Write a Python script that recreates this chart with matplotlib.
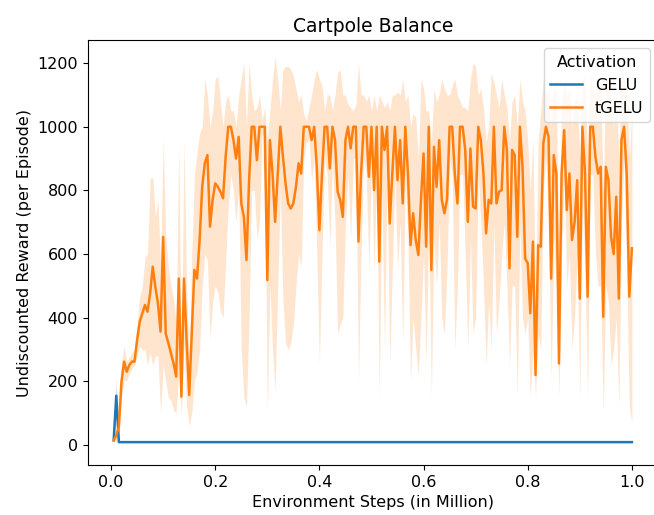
import numpy as np
import matplotlib
matplotlib.use("Agg")
import matplotlib.pyplot as plt

matplotlib.rc("font", size=11.5)

# environment steps (in million), one point every 5000 steps
steps = np.arange(1, 201) * 0.005

# GELU run: mean reward and band
gelu_mean = [15, 155] + [9] * 198
gelu_lo = [8, 105] + [8] * 198
gelu_hi = [25, 205] + [10] * 198

# tGELU run: mean reward and band
tgelu_mean = [
    15, 30, 58, 199, 262, 230, 251, 262, 262, 330,
    387, 414, 440, 419, 476, 560, 497, 445, 356, 654,
    350, 320, 288, 256, 215, 523, 152, 523, 330, 157,
    351, 550, 523, 644, 811, 885, 911, 686, 770, 822,
    811, 796, 775, 906, 1000, 1000, 958, 900, 968, 759,
    717, 581, 832, 1000, 1000, 895, 1000, 1000, 1000, 518,
    958, 853, 701, 853, 1000, 906, 822, 759, 743, 759,
    811, 885, 853, 1000, 1000, 1000, 958, 1000, 874, 675,
    853, 1000, 1000, 869, 1000, 958, 796, 770, 717, 958,
    1000, 932, 1000, 1000, 639, 853, 1000, 1000, 843, 1000,
    801, 1000, 576, 1000, 927, 1000, 696, 853, 1000, 832,
    958, 759, 1000, 853, 628, 728, 644, 597, 770, 916,
    623, 1000, 550, 937, 811, 958, 770, 728, 770, 1000,
    1000, 853, 759, 1000, 1000, 927, 701, 932, 749, 743,
    1000, 958, 853, 665, 770, 759, 1000, 759, 796, 801,
    1000, 927, 555, 927, 911, 654, 1000, 874, 586, 571,
    414, 639, 220, 628, 623, 948, 1000, 968, 523, 911,
    853, 256, 853, 989, 738, 853, 644, 700, 832, 460,
    1000, 853, 466, 1000, 1000, 906, 853, 874, 403, 874,
    832, 654, 600, 780, 460, 958, 1000, 853, 466, 618,
]
tgelu_lo = [
    5, 15, 40, 150, 205, 200, 225, 240, 250, 280,
    310, 300, 300, 250, 290, 250, 280, 280, 100, 250,
    200, 150, 140, 110, 100, 230, 90, 320, 120, 60,
    100, 200, 230, 300, 500, 600, 580, 330, 450, 500,
    480, 420, 400, 580, 750, 850, 800, 700, 800, 300,
    150, 120, 400, 800, 800, 650, 700, 980, 960, 90,
    500, 300, 170, 500, 800, 450, 320, 300, 320, 380,
    500, 600, 560, 900, 950, 960, 830, 900, 600, 250,
    600, 900, 850, 620, 900, 700, 350, 380, 400, 700,
    850, 650, 900, 900, 200, 600, 900, 850, 550, 900,
    550, 850, 150, 800, 300, 850, 250, 550, 850, 550,
    700, 320, 850, 650, 200, 400, 300, 220, 400, 600,
    250, 700, 150, 650, 500, 700, 400, 350, 550, 900,
    850, 300, 500, 850, 850, 600, 300, 650, 350, 400,
    850, 700, 500, 250, 450, 300, 700, 350, 450, 600,
    700, 500, 250, 500, 500, 150, 700, 400, 350, 400,
    150, 300, 150, 350, 300, 800, 900, 700, 200, 650,
    500, 150, 600, 850, 500, 600, 300, 400, 600, 150,
    800, 550, 150, 850, 850, 600, 500, 500, 100, 500,
    450, 250, 300, 400, 120, 700, 900, 550, 120, 70,
]
tgelu_hi = [
    30, 45, 80, 260, 310, 265, 275, 290, 300, 380,
    470, 500, 590, 600, 840, 840, 720, 770, 560, 960,
    650, 560, 500, 460, 380, 940, 250, 960, 500, 250,
    600, 850, 920, 980, 1000, 1150, 1100, 1000, 1050, 1150,
    1160, 1080, 1000, 1080, 1100, 1050, 1050, 1000, 1100, 1150,
    1200, 1000, 1200, 1100, 1050, 1060, 1100, 1020, 1060, 960,
    1050, 1150, 1220, 1150, 1050, 1180, 1190, 1190, 1180, 1160,
    1120, 1080, 1100, 1040, 1020, 1060, 1100, 1150, 1180, 1150,
    1130, 1050, 1100, 1100, 1050, 1100, 1170, 1180, 1100, 1100,
    1070, 1060, 1050, 1070, 1200, 1100, 1100, 1080, 1100, 1050,
    1100, 1050, 1100, 1080, 1060, 1080, 1050, 1100, 1100, 1110,
    1100, 1150, 1080, 1100, 1000, 1040, 1030, 900, 1150, 1120,
    1050, 1050, 950, 1120, 1080, 1100, 1150, 1120, 1100, 1100,
    1130, 1150, 1100, 1080, 1060, 1060, 1050, 1150, 1200, 1190,
    1100, 1120, 1060, 950, 1000, 1170, 1140, 1100, 1060, 1150,
    1100, 1060, 950, 1080, 1100, 1000, 1150, 1080, 1050, 950,
    800, 960, 420, 950, 1050, 1150, 1100, 1120, 1000, 1150,
    1100, 500, 1080, 1150, 1100, 1120, 1000, 1080, 1100, 900,
    1150, 1150, 900, 1170, 1120, 1100, 1150, 1120, 800, 1150,
    1150, 1050, 1000, 1100, 900, 1200, 1150, 1120, 900, 1050,
]

runs = [
    ("GELU", gelu_mean, gelu_lo, gelu_hi, "C0"),
    ("tGELU", tgelu_mean, tgelu_lo, tgelu_hi, "C1"),
]

fig = plt.figure(figsize=(6.54, 5.15), dpi=100)
ax = fig.add_axes([0.134, 0.097, 0.872, 0.825])

for name, mean, lo, hi, color in runs:
    ax.plot(steps, mean, color=color, linewidth=1.8, label=name)
    ax.fill_between(steps, lo, hi, color=color, alpha=0.2, linewidth=0)

ax.set_xlim(-0.045, 1.05)
ax.set_ylim(-63, 1272)
ax.set_title("Cartpole Balance", fontsize=13.5)
ax.set_xlabel("Environment Steps (in Million)")
ax.set_ylabel("Undiscounted Reward (per Episode)")
ax.legend(title="Activation", loc="upper right")

fig.savefig("out.png", dpi=100)
